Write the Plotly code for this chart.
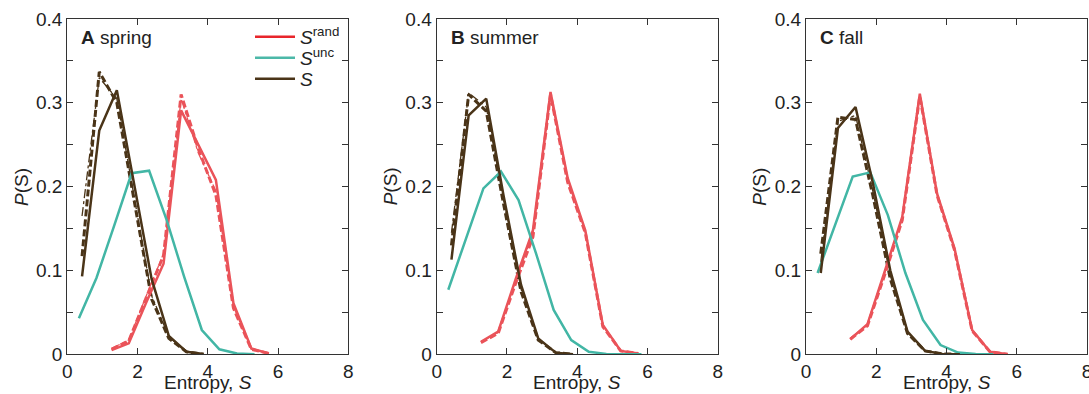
import plotly.graph_objects as go

# Entropy bin centres
x_rand = [1.26, 1.75, 2.25, 2.74, 3.24, 3.73, 4.23, 4.73, 5.24, 5.74]
x_unc = [0.33, 0.83, 1.33, 1.83, 2.33, 2.83, 3.33, 3.83, 4.33, 4.83, 5.33, 5.83]
x_s = [0.42, 0.91, 1.41, 1.9, 2.4, 2.89, 3.39, 3.88, 4.38]

panels = ["A", "B", "C"]
seasons = ["spring", "summer", "fall"]

# P(S) values for the randomised entropy
rand_spring = [0.005, 0.013, 0.062, 0.108, 0.291, 0.25, 0.208, 0.061, 0.007, 0.001]
rand_spring_b = [0.006, 0.016, 0.068, 0.118, 0.310, 0.245, 0.190, 0.055, 0.006, 0.001]
rand_spring_c = [0.007, 0.017, 0.070, 0.120, 0.305, 0.240, 0.195, 0.057, 0.006, 0.001]
rand_summer = [0.015, 0.027, 0.090, 0.148, 0.313, 0.210, 0.148, 0.035, 0.004, 0.001]
rand_summer_b = [0.014, 0.025, 0.085, 0.140, 0.310, 0.205, 0.145, 0.033, 0.004, 0.001]
rand_summer_c = [0.015, 0.026, 0.088, 0.144, 0.308, 0.207, 0.146, 0.034, 0.004, 0.001]
rand_fall = [0.018, 0.036, 0.100, 0.164, 0.311, 0.192, 0.126, 0.029, 0.003, 0.0]
rand_fall_b = [0.018, 0.034, 0.096, 0.160, 0.308, 0.190, 0.124, 0.028, 0.003, 0.0]
rand_fall_c = [0.019, 0.035, 0.098, 0.162, 0.306, 0.191, 0.125, 0.028, 0.003, 0.0]

# P(S) values for the uncorrelated entropy
unc_spring = [0.043, 0.091, 0.153, 0.216, 0.219, 0.160, 0.092, 0.029, 0.006, 0.001, 0.0]
unc_summer = [0.077, 0.137, 0.198, 0.218, 0.184, 0.120, 0.053, 0.017, 0.003, 0.0005, 0.0, 0.0]
unc_fall = [0.097, 0.155, 0.212, 0.217, 0.166, 0.097, 0.041, 0.011, 0.002, 0.0003, 0.0]

# P(S) values for the actual entropy
s_spring = [0.093, 0.267, 0.315, 0.205, 0.090, 0.022, 0.003, 0.0005]
s_spring_b = [0.117, 0.337, 0.300, 0.185, 0.066, 0.019, 0.003, 0.0]
s_spring_c = [0.165, 0.330, 0.305, 0.190, 0.070, 0.021, 0.003, 0.0]
s_summer = [0.113, 0.285, 0.305, 0.190, 0.083, 0.019, 0.002, 0.0]
s_summer_b = [0.130, 0.310, 0.290, 0.180, 0.075, 0.017, 0.002, 0.0]
s_summer_c = [0.145, 0.312, 0.295, 0.185, 0.078, 0.018, 0.002, 0.0]
s_fall = [0.097, 0.270, 0.295, 0.205, 0.100, 0.027, 0.004, 0.0005, 0.0]
s_fall_b = [0.120, 0.283, 0.280, 0.190, 0.090, 0.025, 0.004, 0.0005, 0.0]
s_fall_c = [0.110, 0.278, 0.285, 0.195, 0.094, 0.026, 0.004, 0.0005, 0.0]

rand_sets = [(rand_spring, rand_spring_b, rand_spring_c),
             (rand_summer, rand_summer_b, rand_summer_c),
             (rand_fall, rand_fall_b, rand_fall_c)]
unc_sets = [unc_spring, unc_summer, unc_fall]
s_sets = [(s_spring, s_spring_b, s_spring_c),
          (s_summer, s_summer_b, s_summer_c),
          (s_fall, s_fall_b, s_fall_c)]

legend_names = ["<i>S</i><sup>rand</sup>", "<i>S</i><sup>unc</sup>", "<i>S</i>"]

RED, RED_KEY = "#EA5359", "#E8252B"
TEAL, TEAL_KEY = "#42B6A5", "#4CB8A8"
BROWN = "#4A3418"
FONT = "Liberation Sans, Arial, sans-serif"
TXT = "#222222"

W, H = 1089, 394
x_left = [67.3, 436.7, 806.0]
plot_w = 281.0
y_top, y_bot = 19.0, 354.3

fig = go.Figure()

for i in range(3):
    xa = "x" if i == 0 else f"x{i + 1}"
    ya = "y" if i == 0 else f"y{i + 1}"
    solid_r, dash_r, dd_r = rand_sets[i]
    solid_s, dash_s, dd_s = s_sets[i]
    unc = unc_sets[i]

    # actual entropy variants
    fig.add_trace(go.Scatter(x=x_s[:len(dd_s)], y=dd_s, mode="lines", xaxis=xa, yaxis=ya,
                             line=dict(color=BROWN, width=1.3, dash="dashdot"), showlegend=False))
    fig.add_trace(go.Scatter(x=x_s[:len(dash_s)], y=dash_s, mode="lines", xaxis=xa, yaxis=ya,
                             line=dict(color=BROWN, width=3, dash="7px,3px"), showlegend=False))
    # randomised entropy variants
    fig.add_trace(go.Scatter(x=x_rand, y=dd_r, mode="lines", xaxis=xa, yaxis=ya,
                             line=dict(color=RED, width=1.3, dash="dashdot"), showlegend=False))
    fig.add_trace(go.Scatter(x=x_rand, y=dash_r, mode="lines", xaxis=xa, yaxis=ya,
                             line=dict(color=RED, width=3, dash="7px,3px"), showlegend=False))
    # solid curves
    fig.add_trace(go.Scatter(x=x_rand, y=solid_r, mode="lines", xaxis=xa, yaxis=ya,
                             line=dict(color=RED, width=2.5), showlegend=False))
    fig.add_trace(go.Scatter(x=x_unc[:len(unc)], y=unc, mode="lines", xaxis=xa, yaxis=ya,
                             line=dict(color=TEAL, width=2.5), showlegend=False))
    fig.add_trace(go.Scatter(x=x_s[:len(solid_s)], y=solid_s, mode="lines", xaxis=xa, yaxis=ya,
                             line=dict(color=BROWN, width=2.5), showlegend=False))

# legend keys, one small legend per row so the rows sit close together
key_colors = [RED_KEY, TEAL_KEY, BROWN]
legend_ids = ["legend", "legend2", "legend3"]
legend_rows = [37, 58, 79]
for name, col, lid in zip(legend_names, key_colors, legend_ids):
    fig.add_trace(go.Scatter(x=[None], y=[None], mode="lines", name=name, legend=lid,
                             line=dict(color=col, width=2.5), xaxis="x", yaxis="y"))

layout = dict(
    width=W, height=H,
    margin=dict(l=0, r=0, t=0, b=0),
    paper_bgcolor="white", plot_bgcolor="white",
    font=dict(family=FONT, size=19, color=TXT),
    showlegend=True,
)
for lid, row in zip(legend_ids, legend_rows):
    layout[lid] = dict(x=250 / W, y=1 - row / H, xanchor="left", yanchor="middle",
                       bgcolor="rgba(0,0,0,0)", font=dict(size=19, family=FONT, color=TXT),
                       itemwidth=40, borderwidth=0)

annotations = []
for i in range(3):
    suffix = "" if i == 0 else str(i + 1)
    x0 = x_left[i] / W
    x1 = min((x_left[i] + plot_w) / W, 1.0)
    axis_common = dict(
        showline=True, linecolor="#333333", linewidth=1.3, mirror="ticks",
        ticks="inside", ticklen=6, tickcolor="#333333", tickwidth=1.2,
        showgrid=False, zeroline=False, automargin=False,
        tickfont=dict(size=19, family=FONT, color=TXT),
    )
    layout["xaxis" + suffix] = dict(
        axis_common, domain=[x0, x1], range=[0, 8], tickvals=[0, 2, 4, 6, 8],
        anchor="y" + suffix, ticklabeloverflow="allow",
    )
    layout["yaxis" + suffix] = dict(
        axis_common, domain=[1 - y_bot / H, 1 - y_top / H], range=[0, 0.4],
        tickvals=[0, 0.1, 0.2, 0.3, 0.4], ticktext=["0", "0.1", "0.2", "0.3", "0.4"],
        minor=dict(dtick=0.05, ticks="inside", ticklen=6, tickcolor="#333333"),
        anchor="x" + suffix,
    )
    xd = "x" + suffix + " domain"
    yd = "y" + suffix + " domain"
    annotations.append(dict(text=f"<b>{panels[i]}</b> {seasons[i]}", xref=xd, yref=yd,
                            x=0, y=1, xshift=12, yshift=-19, xanchor="left", yanchor="middle",
                            showarrow=False, font=dict(size=19, family=FONT, color=TXT)))
    annotations.append(dict(text="Entropy, <i>S</i>", xref=xd, yref=yd, x=0.5, y=0,
                            yshift=-28, xanchor="center", yanchor="middle", showarrow=False,
                            font=dict(size=19, family=FONT, color=TXT)))
    annotations.append(dict(text="<i>P</i>(S)", xref=xd, yref=yd, x=0, y=0.5,
                            xshift=-46, xanchor="center", yanchor="middle", textangle=-90,
                            showarrow=False, font=dict(size=19, family=FONT, color=TXT)))

layout["annotations"] = annotations
fig.update_layout(**layout)
fig.write_html("out.html")
